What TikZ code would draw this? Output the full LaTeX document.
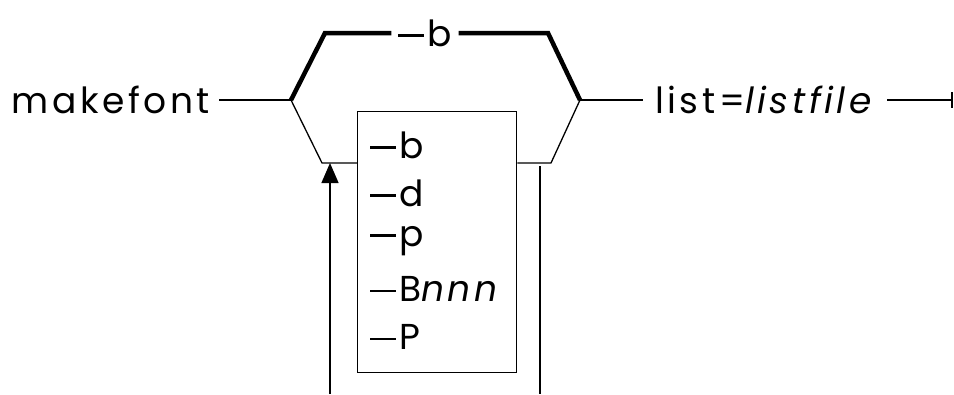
\documentclass[tikz,border=0pt]{standalone}
\usepackage{fontspec}
\setmainfont{Poppins}[LetterSpace=10]
\usetikzlibrary{arrows.meta, positioning}
\newcommand{\optdash}{\rule[0.26em]{0.72em}{2.6pt}\kern3pt}

\begin{document}
\begin{tikzpicture}[x=1pt, y=-1pt, >={Triangle[length=20pt,width=17pt]},
        lbl/.style={inner sep=0pt, font=\fontsize{36}{36}\selectfont},
        item/.style={lbl, anchor=west},
        thin/.style={line width=1.3pt},
        heavy/.style={line width=4.5pt}]
        \useasboundingbox (0,0) rectangle (954,394);
        \node[lbl, anchor=east, outer xsep=9pt] (mk) at (219,100) {makefont};
        \node[lbl, outer xsep=7pt] (b) at (425,33) {\optdash b};
        \node[lbl, anchor=west, outer xsep=12pt] (lst) at (643,100) {list=\textit{listfile}};
        \node[draw, thin, minimum width=159pt, minimum height=261pt, anchor=north west] (box) at (357,111) {};
        \node[item] (ob) at (370,145) {\optdash b};
        \node[item] (od) at (370,193) {\optdash d};
        \node[item] (op) at (370,241) {\optdash p};
        \node[item] (oB) at (370,289) {\optdash B\textit{nnn}};
        \node[item] (oP) at (370,337) {\optdash P};
        % branch points
        \coordinate (sL) at (291,100);
        \coordinate (sR) at (580,100);
        \coordinate (tl) at (325,33);
        \coordinate (tr) at (548,33);
        \coordinate (bl) at (322,163);
        \coordinate (br) at (551,163);
        \coordinate (endc) at (952,100);
        \coordinate (endT) at (952,92);
        \coordinate (endB) at (952,108);
        \coordinate (ltip) at (330,163);
        \coordinate (lbot) at (330,394);
        \coordinate (rtop) at (540,166);
        \coordinate (rbot) at (540,394);
        \draw[thin] (mk) -- (sL);
        \draw[heavy, line join=miter] (sL) -- (tl) -- (b);
        \draw[heavy, line join=miter] (b) -- (tr) -- (sR);
        \draw[thin] (sL) -- (bl) -- (box.west |- bl);
        \draw[thin] (box.east |- br) -- (br) -- (sR);
        \draw[thin] (sR) -- (lst);
        \draw[thin] (lst) -- (endc);
        \draw[thin] (endT) -- (endB);
        \draw[thin, ->] (lbot) -- (ltip);
        \draw[thin] (rtop) -- (rbot);
    \end{tikzpicture}
\end{document}
